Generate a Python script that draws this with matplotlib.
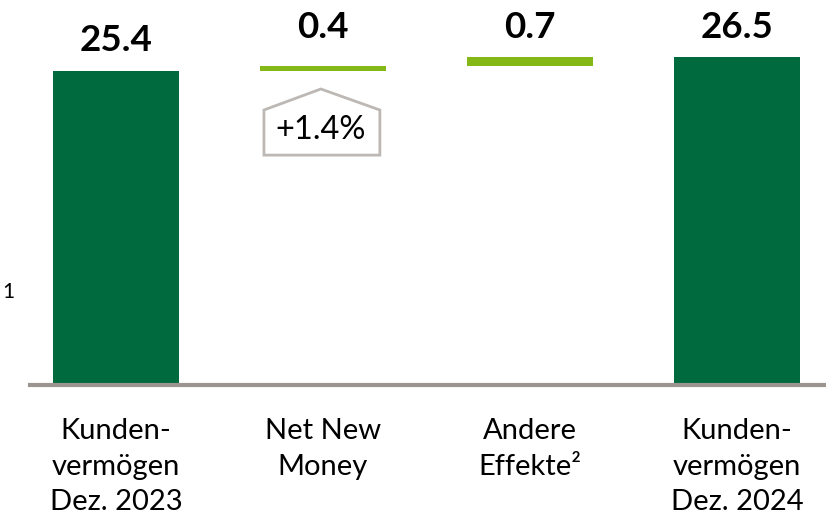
import numpy as np
import matplotlib.pyplot as plt
from matplotlib.patches import Polygon

categories = ["Kunden-\nvermögen\nDez. 2023", "Net New\nMoney", "Andere\nEffekte²", "Kunden-\nvermögen\nDez. 2024"]
values = [25.4, 0.4, 0.7, 26.5]
is_total = [True, False, False, True]
nnm_growth = "+1.4%"

dark_green = "#006a3f"
lime = "#84b816"
grey = "#9b948f"
plt.rcParams['font.family'] = ['Lato', 'DejaVu Sans']

# waterfall bottoms
bottoms = []
running = 0.0
for v, total in zip(values, is_total):
    if total:
        bottoms.append(0.0)
        running = v
    else:
        bottoms.append(running)
        running += v

fig = plt.figure(figsize=(8.26, 5.25), dpi=100)
ax = fig.add_axes([30 / 826, 140 / 525, 796 / 826, 385 / 525])
x = np.arange(len(categories))
colors = [dark_green if t else lime for t in is_total]
ax.bar(x, values, bottom=bottoms, width=0.61, color=colors, zorder=2)

ax.set_xlim(-0.415, 3.43)
ax.set_ylim(0, 31.15)
for s in ["top", "right", "left"]:
    ax.spines[s].set_visible(False)
ax.spines["bottom"].set_color(grey)
ax.spines["bottom"].set_linewidth(3)
ax.set_yticks([])
ax.set_xticks(x)
ax.set_xticklabels(categories, fontsize=21, linespacing=1.45)
ax.tick_params(axis="x", length=0, pad=24)

# value labels
offsets = [10, 16, 10, 10]
for xi, v, b, off in zip(x, values, bottoms, offsets):
    ax.annotate(f"{v:.1f}", (xi, b + v), xytext=(0, off), textcoords="offset points",
                ha="center", va="bottom", fontsize=26.5, fontweight="bold")

# growth callout under Net New Money
cx = x[1]
poly = Polygon([[cx - 0.285, 18.6], [cx - 0.285, 22.25], [cx - 0.01, 23.95],
                [cx + 0.275, 22.25], [cx + 0.275, 18.6]],
               closed=True, facecolor="white", edgecolor="#bdb8b4", linewidth=2, zorder=3)
ax.add_patch(poly)
ax.text(cx - 0.01, 20.6, nnm_growth, ha="center", va="center", fontsize=23.5, zorder=4)

fig.text(8 / 826, 1 - 292 / 525, "1", fontsize=15, ha="center", va="center")

fig.savefig("out.png", dpi=100)
